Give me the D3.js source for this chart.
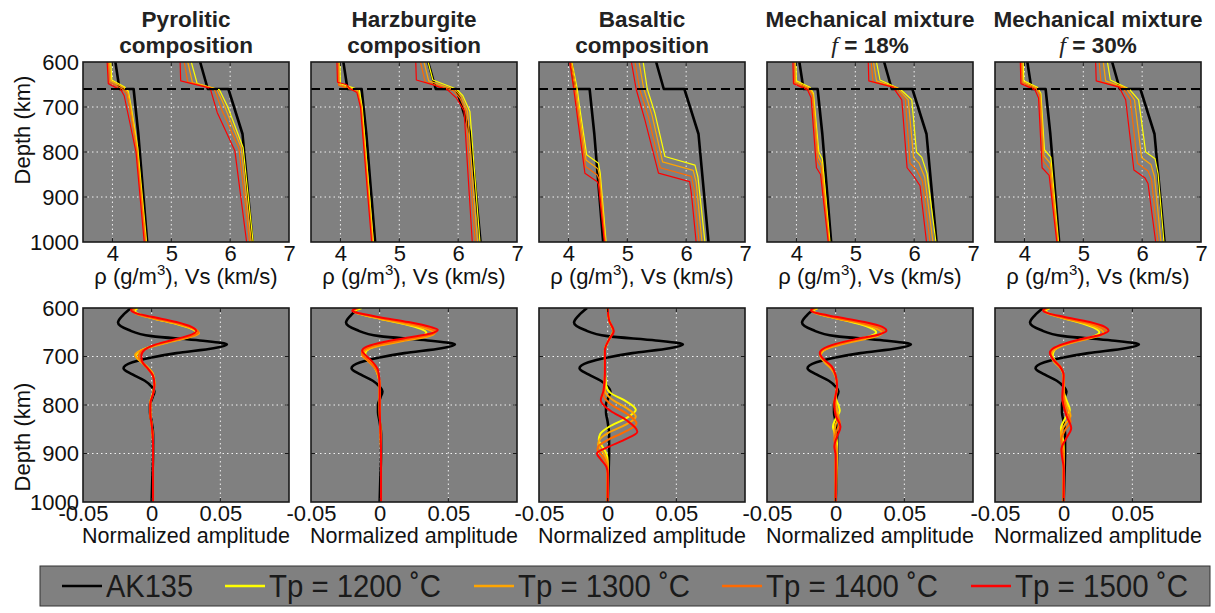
<!DOCTYPE html>
<html>
<head>
<meta charset="utf-8">
<script src="https://cdn.jsdelivr.net/npm/d3@7"></script>
<style>
  body { margin: 0; background: #fff; }
  svg { display: block; font-family: "Liberation Sans", Arial, Helvetica, sans-serif; }
</style>
</head>
<body>
<script>
// ---------------- data ----------------
const titleLine1 = ["Pyrolitic", "Harzburgite", "Basaltic", "Mechanical mixture", "Mechanical mixture"];
const titleLine2 = ["composition", "composition", "composition", "18%", "30%"];
const seriesNames = ["AK135", "Tp = 1200 \u02DAC", "Tp = 1300 \u02DAC", "Tp = 1400 \u02DAC", "Tp = 1500 \u02DAC"];
const seriesColors = ["#000000", "#ffff00", "#ffa500", "#ff6a00", "#ff0000"];
const depthTicks = [600, 700, 800, 900, 1000];
const profileTicks = [4, 5, 6, 7];
const ampTicks = [-0.05, 0, 0.05];
const ampTickLabels = ["-0.05", "0", "0.05"];

// reference model, [depth km, value]
const ak135Rho = [[600, 4.05], [660, 4.12], [660, 4.36], [760, 4.44], [1000, 4.59]];
const ak135Vs  = [[600, 5.49], [660, 5.62], [660, 5.97], [760, 6.21], [1000, 6.38]];

// density profiles per composition, one list per Tp (1200, 1300, 1400, 1500)
const pyroliticRho = [
  [[600, 3.97], [640, 3.99], [655, 4.2], [665, 4.27], [700, 4.32], [790, 4.43], [1000, 4.58]],
  [[600, 3.95], [642, 3.97], [657, 4.19], [667, 4.26], [700, 4.31], [792, 4.42], [1000, 4.57]],
  [[600, 3.93], [645, 3.95], [660, 4.17], [670, 4.24], [700, 4.29], [795, 4.41], [1000, 4.56]],
  [[600, 3.91], [648, 3.93], [663, 4.15], [675, 4.2], [700, 4.24], [800, 4.4], [1000, 4.54]]
];
const harzburgiteRho = [
  [[600, 3.99], [648, 4.0], [662, 4.32], [700, 4.37], [1000, 4.56]],
  [[600, 3.97], [650, 3.98], [664, 4.3], [700, 4.36], [1000, 4.55]],
  [[600, 3.96], [652, 3.97], [666, 4.29], [700, 4.35], [1000, 4.54]],
  [[600, 3.94], [645, 3.95], [650, 4.1], [660, 4.17], [668, 4.28], [700, 4.34], [1000, 4.53]]
];
const basalticRho = [
  [[600, 4.06], [660, 4.15], [700, 4.19], [806, 4.31], [825, 4.51], [847, 4.54], [1000, 4.64]],
  [[600, 4.05], [660, 4.13], [700, 4.17], [818, 4.3], [837, 4.5], [853, 4.53], [1000, 4.63]],
  [[600, 4.04], [660, 4.11], [700, 4.15], [832, 4.29], [851, 4.49], [860, 4.52], [1000, 4.62]],
  [[600, 4.02], [660, 4.09], [700, 4.13], [847, 4.28], [866, 4.49], [872, 4.51], [1000, 4.61]]
];
const mix18Rho = [
  [[600, 3.99], [642, 4.0], [656, 4.23], [670, 4.29], [800, 4.38], [815, 4.44], [1000, 4.57]],
  [[600, 3.97], [644, 3.98], [658, 4.22], [672, 4.28], [810, 4.37], [825, 4.43], [1000, 4.56]],
  [[600, 3.96], [646, 3.97], [660, 4.21], [674, 4.27], [820, 4.36], [835, 4.42], [1000, 4.55]],
  [[600, 3.94], [648, 3.95], [662, 4.19], [680, 4.25], [835, 4.34], [850, 4.41], [1000, 4.54]]
];
const mix30Rho = [
  [[600, 3.98], [642, 3.99], [656, 4.22], [670, 4.28], [795, 4.34], [812, 4.45], [1000, 4.58]],
  [[600, 3.96], [644, 3.97], [658, 4.21], [672, 4.27], [808, 4.33], [825, 4.44], [1000, 4.57]],
  [[600, 3.95], [646, 3.96], [660, 4.2], [674, 4.26], [820, 4.32], [838, 4.43], [1000, 4.56]],
  [[600, 3.93], [648, 3.94], [662, 4.18], [680, 4.24], [835, 4.3], [852, 4.42], [1000, 4.55]]
];

// shear velocity profiles per composition, one list per Tp
const pyroliticVs = [
  [[600, 5.34], [648, 5.44], [662, 5.82], [700, 5.96], [790, 6.22], [1000, 6.39]],
  [[600, 5.28], [646, 5.36], [661, 5.78], [703, 5.92], [791, 6.19], [1000, 6.36]],
  [[600, 5.22], [644, 5.28], [660, 5.73], [707, 5.86], [793, 6.15], [1000, 6.33]],
  [[600, 5.15], [642, 5.16], [658, 5.66], [712, 5.78], [797, 6.08], [1000, 6.28]]
];
const harzburgiteVs = [
  [[600, 5.49], [640, 5.57], [660, 5.97], [675, 6.08], [710, 6.2], [1000, 6.37]],
  [[600, 5.42], [642, 5.5], [662, 5.95], [678, 6.06], [710, 6.16], [1000, 6.33]],
  [[600, 5.36], [644, 5.44], [664, 5.92], [680, 6.03], [710, 6.13], [1000, 6.29]],
  [[600, 5.28], [640, 5.29], [651, 5.58], [662, 5.82], [680, 5.97], [708, 6.1], [1000, 6.24]]
];
const basalticVs = [
  [[600, 5.27], [660, 5.34], [714, 5.47], [810, 5.64], [829, 6.15], [855, 6.2], [1000, 6.32]],
  [[600, 5.2], [660, 5.28], [718, 5.42], [822, 5.6], [841, 6.12], [867, 6.17], [1000, 6.27]],
  [[600, 5.13], [660, 5.21], [723, 5.36], [835, 5.56], [854, 6.09], [880, 6.13], [1000, 6.22]],
  [[600, 5.07], [660, 5.15], [729, 5.3], [847, 5.53], [866, 6.06], [893, 6.09], [1000, 6.17]]
];
const mix18Vs = [
  [[600, 5.36], [640, 5.42], [660, 5.76], [684, 5.96], [800, 6.04], [812, 6.13], [848, 6.22], [1000, 6.37]],
  [[600, 5.31], [642, 5.36], [658, 5.72], [684, 5.9], [812, 5.99], [824, 6.08], [856, 6.18], [1000, 6.32]],
  [[600, 5.27], [644, 5.3], [657, 5.68], [684, 5.85], [825, 5.93], [840, 6.04], [865, 6.14], [1000, 6.27]],
  [[600, 5.22], [642, 5.23], [656, 5.64], [684, 5.79], [835, 5.88], [855, 6.0], [875, 6.1], [1000, 6.21]]
];
const mix30Vs = [
  [[600, 5.41], [640, 5.46], [660, 5.78], [684, 5.94], [800, 6.06], [815, 6.22], [848, 6.27], [1000, 6.37]],
  [[600, 5.34], [642, 5.38], [658, 5.73], [684, 5.87], [812, 5.99], [828, 6.15], [855, 6.21], [1000, 6.32]],
  [[600, 5.27], [644, 5.3], [657, 5.67], [684, 5.8], [825, 5.92], [842, 6.1], [862, 6.16], [1000, 6.27]],
  [[600, 5.21], [642, 5.22], [656, 5.61], [684, 5.72], [840, 5.86], [858, 6.05], [870, 6.1], [1000, 6.23]]
];

// normalized amplitude, [depth km, amplitude]
const ak135Amp = [[600, -0.015], [615, -0.021], [630, -0.0245], [645, -0.017], [658, 0.0], [667, 0.035],
  [675, 0.0548], [683, 0.045], [693, 0.018], [702, 0.0], [712, -0.014], [724, -0.0205], [737, -0.014],
  [750, -0.005], [762, 0.0], [772, 0.002], [785, 0.0005], [800, -0.0012], [815, -0.0012], [835, 0.0],
  [860, 0.001], [900, 0.001], [950, 0.0005], [1000, 0.0]];

const pyroliticAmp = [
  [[600, -0.010], [606, -0.012], [614, -0.008], [622, 0.002], [633, 0.018], [643, 0.029], [652, 0.033], [660, 0.027], [670, 0.012], [680, -0.001], [690, -0.009], [699, -0.0115], [710, -0.008], [722, -0.003], [738, 0.001], [755, 0.002], [775, 0.001], [795, -0.001], [815, -0.001], [840, 0.0], [880, 0.001], [1000, 0.001]],
  [[600, -0.012], [606, -0.013], [614, -0.009], [622, 0.002], [633, 0.019], [643, 0.030], [652, 0.0345], [660, 0.028], [670, 0.013], [680, 0.0], [689, -0.009], [697, -0.012], [708, -0.009], [720, -0.004], [736, 0.001], [755, 0.002], [775, 0.001], [795, -0.001], [815, -0.001], [840, 0.0], [880, 0.001], [1000, 0.001]],
  [[600, -0.013], [605, -0.0135], [613, -0.01], [620, 0.0], [631, 0.018], [641, 0.030], [650, 0.034], [658, 0.029], [668, 0.014], [678, 0.001], [688, -0.007], [700, -0.0095], [712, -0.007], [725, -0.003], [740, 0.001], [758, 0.002], [778, 0.001], [798, -0.001], [818, -0.001], [840, 0.0], [880, 0.001], [1000, 0.001]],
  [[600, -0.014], [604, -0.015], [611, -0.011], [618, 0.0], [629, 0.018], [639, 0.029], [648, 0.0325], [656, 0.028], [666, 0.015], [676, 0.002], [686, -0.005], [698, -0.0075], [710, -0.007], [724, -0.003], [740, 0.001], [758, 0.002], [778, 0.001], [798, -0.001], [818, -0.001], [840, 0.0], [880, 0.001], [1000, 0.001]]
];
const harzburgiteAmp = [
  [[600, -0.013], [607, -0.018], [614, -0.012], [622, 0.0], [633, 0.018], [643, 0.030], [651, 0.034], [658, 0.030], [667, 0.016], [676, 0.001], [685, -0.008], [694, -0.0105], [705, -0.008], [720, -0.004], [740, -0.001], [760, 0.0], [800, 0.0], [900, 0.001], [1000, 0.001]],
  [[600, -0.015], [607, -0.019], [614, -0.012], [622, 0.0], [633, 0.019], [644, 0.035], [652, 0.040], [659, 0.035], [668, 0.017], [677, 0.001], [687, -0.010], [697, -0.0128], [708, -0.009], [722, -0.004], [740, -0.001], [760, 0.0], [800, 0.0], [900, 0.001], [1000, 0.001]],
  [[600, -0.016], [606, -0.0195], [613, -0.012], [620, 0.0], [631, 0.020], [642, 0.036], [649, 0.041], [656, 0.036], [665, 0.019], [674, 0.002], [684, -0.010], [693, -0.013], [704, -0.010], [718, -0.005], [736, -0.001], [760, 0.0], [800, 0.0], [900, 0.001], [1000, 0.001]],
  [[600, -0.017], [606, -0.020], [612, -0.013], [619, 0.0], [629, 0.021], [639, 0.037], [645, 0.0423], [652, 0.038], [661, 0.021], [670, 0.003], [679, -0.009], [688, -0.0128], [698, -0.010], [712, -0.005], [730, -0.001], [760, 0.0], [800, 0.0], [900, 0.001], [1000, 0.001]]
];
const basalticAmp = [
  [[600, 0.0], [625, 0.001], [648, 0.004], [665, 0.001], [687, -0.002], [720, -0.002], [760, -0.001], [775, 0.002], [790, 0.012], [810, 0.0205], [828, 0.013], [845, 0.001], [860, -0.0055], [872, -0.0065], [885, -0.004], [900, -0.001], [915, 0.0], [950, 0.0], [1000, 0.0]],
  [[600, 0.0], [625, 0.001], [648, 0.004], [665, 0.001], [687, -0.002], [725, -0.002], [770, -0.002], [788, 0.003], [805, 0.013], [824, 0.0205], [842, 0.012], [858, 0.0], [872, -0.006], [882, -0.007], [895, -0.004], [910, -0.001], [925, 0.0], [1000, 0.0]],
  [[600, 0.0], [625, 0.001], [648, 0.004], [665, 0.001], [687, -0.002], [730, -0.002], [780, -0.003], [800, 0.003], [818, 0.014], [838, 0.021], [856, 0.012], [872, 0.0], [884, -0.0065], [892, -0.0075], [905, -0.004], [920, -0.001], [935, 0.0], [1000, 0.0]],
  [[600, 0.0], [625, 0.001], [648, 0.0045], [665, 0.001], [687, -0.002], [735, -0.002], [770, -0.003], [790, -0.005], [812, 0.002], [832, 0.014], [855, 0.0216], [872, 0.012], [887, 0.0], [900, -0.0078], [912, -0.005], [927, -0.001], [941, 0.0], [1000, 0.0]]
];
const mix18Amp = [
  [[600, -0.013], [606, -0.016], [613, -0.011], [621, 0.0], [632, 0.016], [642, 0.026], [650, 0.0295], [658, 0.025], [667, 0.012], [677, -0.001], [688, -0.009], [698, -0.011], [710, -0.008], [724, -0.003], [740, 0.0], [760, 0.001], [785, 0.0], [800, 0.002], [812, 0.003], [828, 0.0], [845, -0.002], [862, 0.0], [880, 0.001], [920, 0.0], [1000, 0.0]],
  [[600, -0.014], [606, -0.017], [613, -0.012], [621, 0.0], [632, 0.018], [643, 0.030], [652, 0.034], [660, 0.028], [669, 0.013], [679, -0.001], [690, -0.010], [700, -0.011], [712, -0.008], [726, -0.003], [742, 0.0], [760, 0.001], [790, 0.0], [810, 0.001], [825, 0.002], [840, 0.0], [858, -0.001], [875, 0.0], [900, 0.001], [1000, 0.0]],
  [[600, -0.015], [606, -0.0175], [612, -0.012], [620, 0.0], [631, 0.019], [641, 0.032], [649, 0.035], [657, 0.029], [666, 0.014], [676, 0.0], [686, -0.010], [696, -0.0115], [708, -0.008], [722, -0.003], [740, 0.0], [760, 0.001], [795, -0.001], [815, 0.0], [835, 0.003], [852, 0.001], [870, -0.001], [890, 0.0], [1000, 0.0]],
  [[600, -0.016], [605, -0.018], [611, -0.013], [618, 0.0], [629, 0.021], [639, 0.034], [647, 0.037], [655, 0.031], [664, 0.015], [674, 0.0], [684, -0.009], [693, -0.0116], [705, -0.009], [720, -0.003], [738, 0.0], [760, 0.001], [800, -0.001], [822, 0.0], [845, 0.0035], [865, 0.001], [885, -0.001], [905, 0.0], [1000, 0.0]]
];
const mix30Amp = [
  [[600, -0.010], [606, -0.013], [613, -0.009], [621, 0.0], [632, 0.014], [642, 0.023], [650, 0.026], [658, 0.022], [667, 0.010], [677, -0.001], [688, -0.007], [698, -0.008], [710, -0.006], [724, -0.002], [742, 0.0], [770, 0.0], [790, 0.002], [810, 0.0045], [828, 0.001], [848, -0.002], [865, -0.001], [885, 0.0], [920, 0.0], [1000, 0.0]],
  [[600, -0.011], [606, -0.014], [613, -0.010], [621, 0.0], [632, 0.016], [643, 0.026], [651, 0.029], [659, 0.024], [668, 0.011], [678, -0.001], [689, -0.008], [699, -0.009], [711, -0.007], [725, -0.002], [742, 0.0], [775, 0.0], [800, 0.002], [822, 0.005], [840, 0.001], [860, -0.002], [878, -0.001], [895, 0.0], [1000, 0.0]],
  [[600, -0.012], [605, -0.0145], [612, -0.010], [620, 0.0], [631, 0.018], [641, 0.028], [649, 0.031], [657, 0.026], [666, 0.012], [676, -0.001], [686, -0.009], [695, -0.0095], [707, -0.007], [722, -0.002], [740, 0.0], [780, 0.0], [812, 0.002], [834, 0.005], [852, 0.001], [872, -0.0018], [890, -0.001], [910, 0.0], [1000, 0.0]],
  [[600, -0.013], [605, -0.015], [611, -0.011], [618, 0.0], [629, 0.019], [639, 0.030], [647, 0.0327], [655, 0.027], [664, 0.013], [674, 0.0], [684, -0.008], [693, -0.0101], [705, -0.008], [720, -0.003], [738, 0.0], [785, -0.001], [822, 0.002], [848, 0.0055], [868, 0.002], [892, -0.0017], [910, -0.001], [930, 0.0], [1000, 0.0]]
];

const rhoSets = [pyroliticRho, harzburgiteRho, basalticRho, mix18Rho, mix30Rho];
const vsSets  = [pyroliticVs, harzburgiteVs, basalticVs, mix18Vs, mix30Vs];
const ampSets = [pyroliticAmp, harzburgiteAmp, basalticAmp, mix18Amp, mix30Amp];
const discontinuityDepth = 660;

// ---------------- layout ----------------
const W = 1215, H = 613;
const colX0 = 83, colStep = 228, panelW = 206;
const topY0 = 62, topH = 180;
const botY0 = 308, botH = 194;
const panelFill = "#808080";
const font = "'Liberation Sans', Arial, Helvetica, sans-serif";

const svg = d3.select("body").append("svg")
  .attr("width", W).attr("height", H)
  .attr("viewBox", `0 0 ${W} ${H}`);

const defs = svg.append("defs");

function panelFrame(g, xs, ys, xTicks, yTicks, id) {
  const x0 = xs.range()[0], x1 = xs.range()[1], y0 = ys.range()[0], y1 = ys.range()[1];
  g.append("rect").attr("x", x0).attr("y", y0)
    .attr("width", x1 - x0).attr("height", y1 - y0).attr("fill", panelFill);
  defs.append("clipPath").attr("id", id).append("rect")
    .attr("x", x0).attr("y", y0).attr("width", x1 - x0).attr("height", y1 - y0);
  // dotted grid
  const grid = g.append("g").attr("stroke", "#ffffff").attr("stroke-width", 1)
    .attr("stroke-dasharray", "1.5,3").attr("opacity", 0.9);
  grid.selectAll(".gx").data(xTicks).join("line")
    .attr("x1", d => xs(d)).attr("x2", d => xs(d)).attr("y1", y0).attr("y2", y1);
  grid.selectAll(".gy").data(yTicks).join("line")
    .attr("x1", x0).attr("x2", x1).attr("y1", d => ys(d)).attr("y2", d => ys(d));
}

function panelBorder(g, xs, ys, xTicks, yTicks) {
  const x0 = xs.range()[0], x1 = xs.range()[1], y0 = ys.range()[0], y1 = ys.range()[1];
  const t = 4;
  const tk = g.append("g").attr("stroke", "#1a1a1a").attr("stroke-width", 1);
  xTicks.forEach(v => {
    tk.append("line").attr("x1", xs(v)).attr("x2", xs(v)).attr("y1", y1).attr("y2", y1 - t);
    tk.append("line").attr("x1", xs(v)).attr("x2", xs(v)).attr("y1", y0).attr("y2", y0 + t);
  });
  yTicks.forEach(v => {
    tk.append("line").attr("x1", x0).attr("x2", x0 + t).attr("y1", ys(v)).attr("y2", ys(v));
    tk.append("line").attr("x1", x1).attr("x2", x1 - t).attr("y1", ys(v)).attr("y2", ys(v));
  });
  g.append("rect").attr("x", x0).attr("y", y0).attr("width", x1 - x0).attr("height", y1 - y0)
    .attr("fill", "none").attr("stroke", "#1a1a1a").attr("stroke-width", 1.6);
}

function styleAxisText(axisG, size) {
  axisG.select(".domain").remove();
  axisG.selectAll("text").attr("font-size", size).attr("font-family", font).attr("fill", "#111");
}

for (let i = 0; i < 5; i++) {
  const px = colX0 + i * colStep;
  const cx = px + panelW / 2;

  // ---- title ----
  const title = svg.append("text").attr("text-anchor", "middle")
    .attr("font-family", font).attr("font-weight", "bold").attr("font-size", 22.5).attr("fill", "#222");
  title.append("tspan").attr("x", cx).attr("y", 27).text(titleLine1[i]);
  if (i < 3) {
    title.append("tspan").attr("x", cx).attr("y", 53).text(titleLine2[i]);
  } else {
    const l2 = title.append("tspan").attr("x", cx).attr("y", 53);
    l2.append("tspan").attr("font-family", "'Liberation Serif', 'Times New Roman', serif")
      .attr("font-style", "italic").attr("font-weight", "normal").attr("font-size", 24).text("f");
    l2.append("tspan").text(" = " + titleLine2[i]);
  }

  // ---- upper panel: density and Vs ----
  const xT = d3.scaleLinear().domain([3.5, 7]).range([px, px + panelW]);
  const yT = d3.scaleLinear().domain([600, 1000]).range([topY0, topY0 + topH]);
  const gT = svg.append("g");
  panelFrame(gT, xT, yT, [4, 5, 6], [700, 800, 900], "clipT" + i);

  const lineT = d3.line().x(d => xT(d[1])).y(d => yT(d[0]));
  const curvesT = gT.append("g").attr("clip-path", `url(#clipT${i})`).attr("fill", "none")
    .attr("stroke-linejoin", "round");
  [ak135Rho, ak135Vs].forEach(s => curvesT.append("path").attr("d", lineT(s))
    .attr("stroke", seriesColors[0]).attr("stroke-width", 2.6));
  for (let k = 0; k < 4; k++) {
    [rhoSets[i][k], vsSets[i][k]].forEach(s => curvesT.append("path").attr("d", lineT(s))
      .attr("stroke", seriesColors[k + 1]).attr("stroke-width", 1.2));
  }
  curvesT.append("line").attr("x1", xT(3.5)).attr("x2", xT(7))
    .attr("y1", yT(discontinuityDepth)).attr("y2", yT(discontinuityDepth))
    .attr("stroke", "#000").attr("stroke-width", 2).attr("stroke-dasharray", "9,5");
  panelBorder(gT, xT, yT, [4, 5, 6], [700, 800, 900]);

  const axT = gT.append("g").attr("transform", `translate(0,${topY0 + topH})`)
    .call(d3.axisBottom(xT).tickValues(profileTicks).tickSize(0).tickPadding(3).tickFormat(d3.format("d")));
  styleAxisText(axT, 22);
  const xlab = gT.append("text").attr("x", cx).attr("y", 284).attr("text-anchor", "middle")
    .attr("font-family", font).attr("font-size", 22).attr("fill", "#111");
  xlab.append("tspan").text("\u03C1 (g/m");
  xlab.append("tspan").attr("font-size", 15).attr("dy", -9).text("3");
  xlab.append("tspan").attr("dy", 9).text("), Vs (km/s)");

  // ---- lower panel: normalized amplitude ----
  const xB = d3.scaleLinear().domain([-0.05, 0.1]).range([px, px + panelW]);
  const yB = d3.scaleLinear().domain([600, 1000]).range([botY0, botY0 + botH]);
  const gB = svg.append("g");
  panelFrame(gB, xB, yB, [0, 0.05], [700, 800, 900], "clipB" + i);

  const lineB = d3.line().x(d => xB(d[1])).y(d => yB(d[0])).curve(d3.curveMonotoneY);
  const curvesB = gB.append("g").attr("clip-path", `url(#clipB${i})`).attr("fill", "none")
    .attr("stroke-linejoin", "round");
  curvesB.append("path").attr("d", lineB(ak135Amp)).attr("stroke", seriesColors[0]).attr("stroke-width", 2.6);
  for (let k = 0; k < 4; k++) {
    curvesB.append("path").attr("d", lineB(ampSets[i][k]))
      .attr("stroke", seriesColors[k + 1]).attr("stroke-width", 2);
  }
  panelBorder(gB, xB, yB, [0, 0.05], [700, 800, 900]);

  const axB = gB.append("g").attr("transform", `translate(0,${botY0 + botH})`)
    .call(d3.axisBottom(xB).tickValues(ampTicks).tickSize(0).tickPadding(3)
      .tickFormat((d, j) => ampTickLabels[j]));
  styleAxisText(axB, 22);
  gB.append("text").attr("x", cx).attr("y", 543).attr("text-anchor", "middle")
    .attr("font-family", font).attr("font-size", 21.5).attr("fill", "#111")
    .text("Normalized amplitude");

  // ---- depth axes on the first column ----
  if (i === 0) {
    [yT, yB].forEach(ys => {
      const ay = svg.append("g").attr("transform", `translate(${px},0)`)
        .call(d3.axisLeft(ys).tickValues(depthTicks).tickSize(0).tickPadding(4).tickFormat(d3.format("d")));
      styleAxisText(ay, 22);
    });
    [130, 437].forEach(cy => {
      svg.append("text").attr("transform", `translate(30,${cy}) rotate(-90)`)
        .attr("text-anchor", "middle").attr("font-family", font).attr("font-size", 22)
        .attr("fill", "#111").text("Depth (km)");
    });
  }
}

// ---------------- legend ----------------
const legendBox = { x: 40, y: 566, w: 1170, h: 40 };
const legendLineX = [62, 225, 474, 722, 971];
const legendTextLen = [87, 172, 172, 172, 173];
const legendLineLen = 40;
const lg = svg.append("g");
lg.append("rect").attr("x", legendBox.x).attr("y", legendBox.y)
  .attr("width", legendBox.w).attr("height", legendBox.h)
  .attr("fill", panelFill).attr("stroke", "#333").attr("stroke-width", 1);
seriesNames.forEach((name, k) => {
  const lx = legendLineX[k];
  lg.append("line").attr("x1", lx).attr("x2", lx + legendLineLen)
    .attr("y1", 586).attr("y2", 586)
    .attr("stroke", seriesColors[k]).attr("stroke-width", 2.5);
  lg.append("text").attr("x", lx + legendLineLen + 4).attr("y", 597)
    .attr("font-family", font).attr("font-size", 32).attr("fill", "#1a1a1a")
    .attr("textLength", legendTextLen[k]).attr("lengthAdjust", "spacingAndGlyphs")
    .text(name);
});
</script>
</body>
</html>
